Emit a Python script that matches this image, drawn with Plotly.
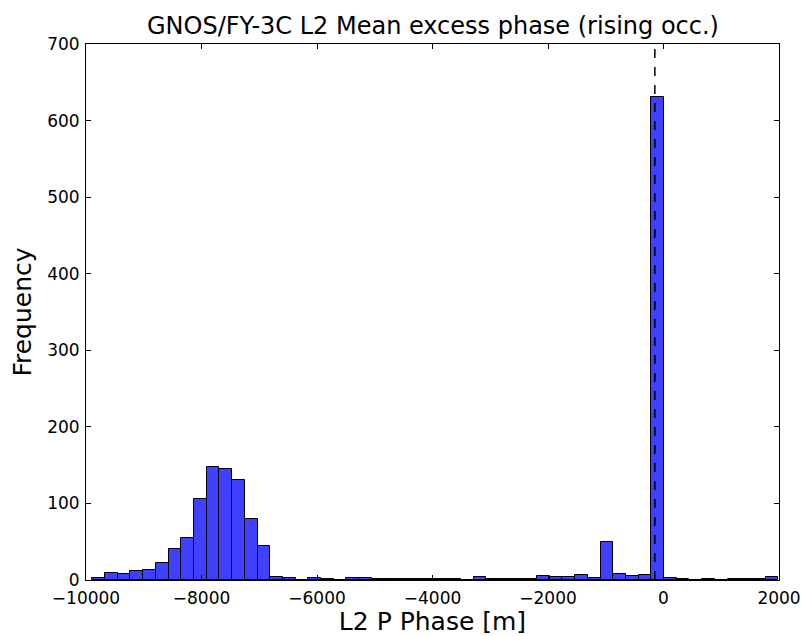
import plotly.graph_objects as go

# Histogram bins (left edges, width) and counts
bin_start = -9890
bin_width = 220
counts = [2, 9, 8, 12, 13, 22, 40, 55, 106, 147,
          145, 131, 80, 45, 4, 2, 0, 2, 1, 0,
          2, 2, 1, 1, 1, 1, 1, 1, 1, 0,
          4, 1, 1, 1, 1, 5, 4, 4, 6, 2,
          50, 8, 5, 7, 631, 3, 1, 0, 1, 0,
          1, 1, 1, 4]
mean_line_x = -150

x_ticks = [-10000, -8000, -6000, -4000, -2000, 0, 2000]
y_ticks = [0, 100, 200, 300, 400, 500, 600, 700]

centers = [bin_start + bin_width * (i + 0.5) for i in range(len(counts))]

fig = go.Figure()
fig.add_trace(go.Bar(
    x=centers, y=counts, width=[bin_width] * len(counts),
    marker=dict(color="rgba(0,0,255,0.75)", line=dict(color="black", width=1)),
    showlegend=False,
))
fig.add_trace(go.Scatter(
    x=[mean_line_x, mean_line_x], y=[0, 700], mode="lines",
    line=dict(color="black", width=1.5, dash="dash"), showlegend=False,
))

font = "DejaVu Sans, sans-serif"
fig.update_layout(
    width=804, height=636,
    margin=dict(l=86, r=25, t=44, b=56, autoexpand=False),
    paper_bgcolor="white", plot_bgcolor="white",
    bargap=0,
    font=dict(family=font, color="black"),
)
fig.add_annotation(
    text="GNOS/FY-3C L2 Mean excess phase (rising occ.)",
    x=0.5, xref="paper", xanchor="center",
    y=1, yref="paper", yanchor="bottom", yshift=2, showarrow=False,
    font=dict(family=font, size=24, color="black"),
)
fig.update_xaxes(
    range=[-10000, 2000], tickvals=x_ticks,
    ticktext=[f"\u2212{abs(v)}" if v < 0 else str(v) for v in x_ticks],
    ticks="inside", ticklen=5, tickcolor="black", mirror="ticks",
    showline=True, linecolor="black", linewidth=1, showgrid=False, zeroline=False,
    tickfont=dict(family=font, size=17, color="black"), ticklabelstandoff=3,
    automargin=False,
    title=dict(text="L2 P Phase [m]", font=dict(family=font, size=25, color="black"), standoff=2),
)
fig.update_yaxes(
    range=[0, 700], tickvals=y_ticks,
    ticks="inside", ticklen=5, tickcolor="black", mirror="ticks",
    showline=True, linecolor="black", linewidth=1, showgrid=False, zeroline=False,
    tickfont=dict(family=font, size=17, color="black"), ticklabelstandoff=2,
    automargin=False,
    title=dict(text="Frequency", font=dict(family=font, size=25, color="black"), standoff=8),
)

fig.write_html("out.html")
